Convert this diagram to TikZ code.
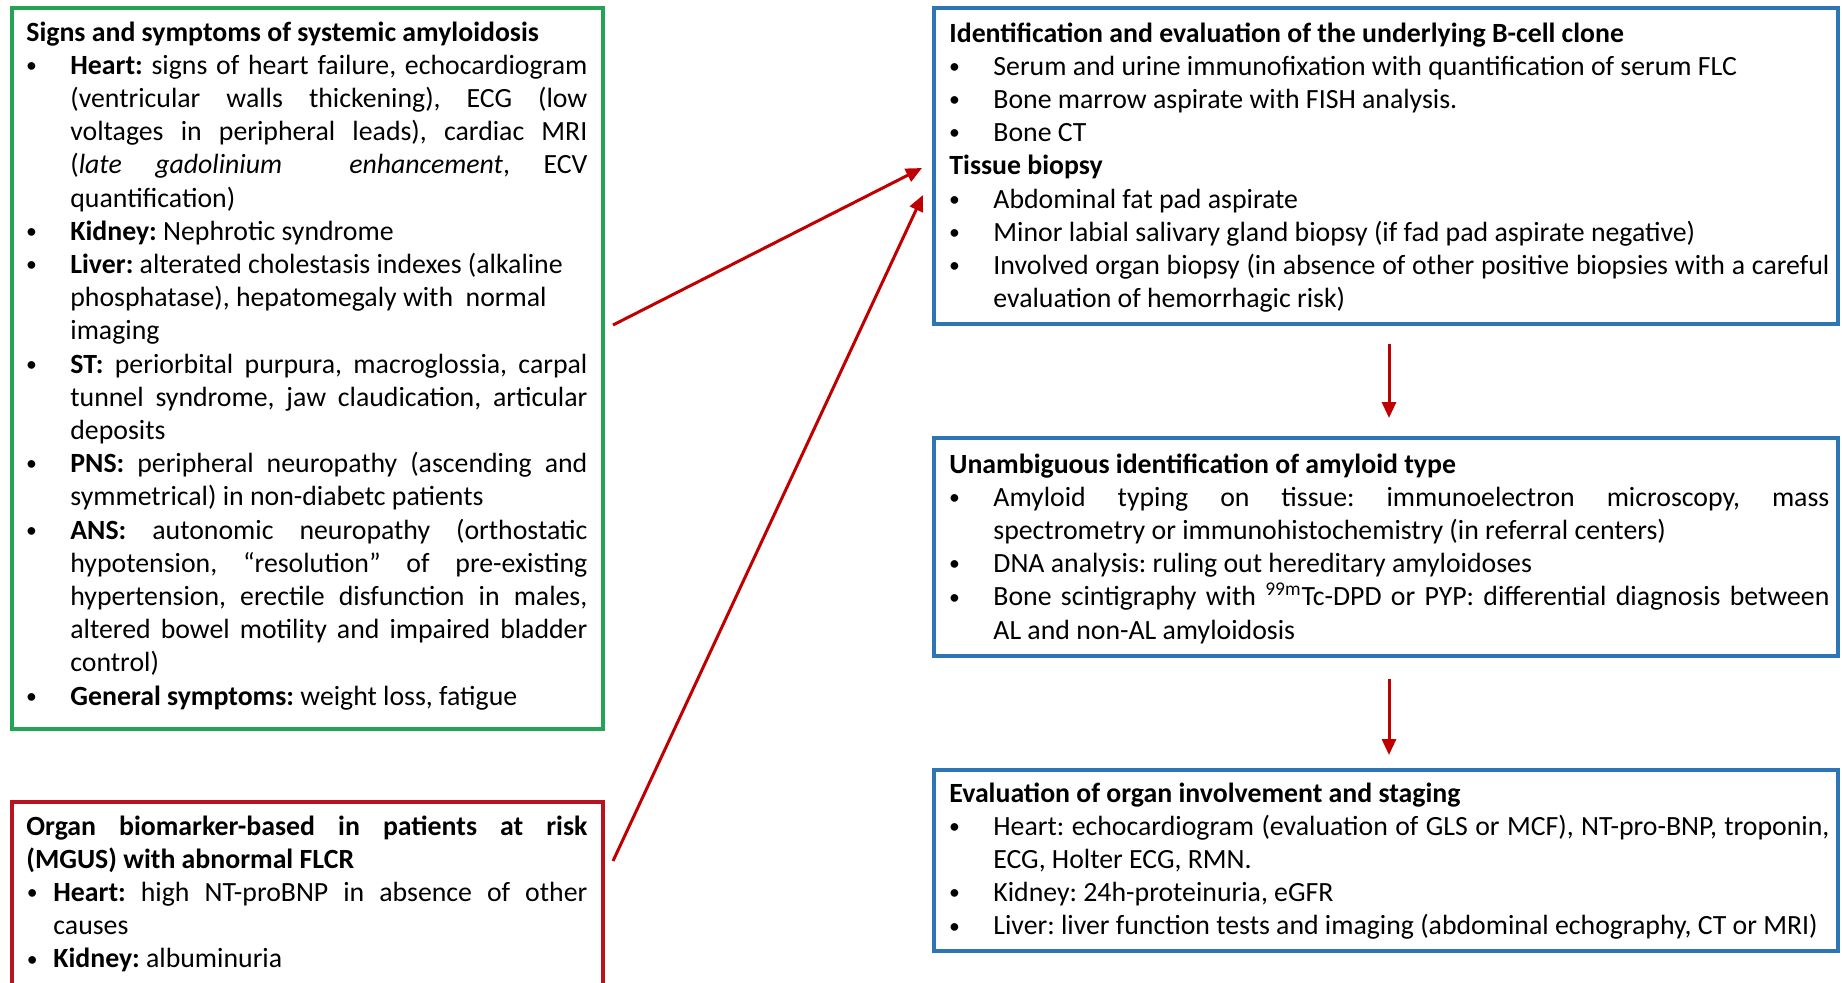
\documentclass[tikz,border=0pt]{standalone}
\usepackage{fontspec}
\usepackage{graphicx}
\setmainfont{Carlito}
\usetikzlibrary{arrows.meta}
\definecolor{boxgreen}{RGB}{36,163,84}
\definecolor{boxred}{RGB}{185,20,30}
\definecolor{boxblue}{RGB}{46,117,182}
\definecolor{arrred}{RGB}{192,0,0}
\newlength\bulx
\newlength\txtx
\newcommand\smallbul{\raisebox{0.06em}{\scalebox{0.78}{\textbullet}}}
\newcommand\bi{\par\hangindent=\txtx\hangafter=1\noindent\makebox[\txtx][l]{\hspace*{\bulx}\makebox[0pt]{\smallbul}}\ignorespaces}
\newcommand\hd[1]{\par\noindent\textbf{#1}}
\newcommand\hdfirst[1]{\noindent\textbf{#1}}
\hyphenpenalty=10000
\exhyphenpenalty=10000
\frenchspacing
\begin{document}
\begin{tikzpicture}[x=0.5pt,y=-0.5pt,
  frame/.style={draw, line width=2pt, rectangle, inner sep=0pt},
  txt/.style={anchor=base west, inner sep=0pt, align=justify, font=\fontsize{13.9pt}{16.6pt}\selectfont\frenchspacing},
  arr/.style={draw=arrred, line width=1.5pt, -{Triangle[length=8pt,width=7pt]}}]
\useasboundingbox (0,0) rectangle (1842,982);
\clip (0,0) rectangle (1842,982);
\fill[white] (0,0) rectangle (1842,982);
% frames
\node[frame, draw=boxgreen, minimum width=295.5pt, minimum height=360.5pt] (g) at (307.5,368.5) {};
\node[frame, draw=boxred, minimum width=295.5pt, minimum height=99pt] (r) at (307.5,901) {};
\node[frame, draw=boxblue, minimum width=452pt, minimum height=158pt] (b1) at (1386,166) {};
\node[frame, draw=boxblue, minimum width=452pt, minimum height=109pt] (b2) at (1386,547) {};
\node[frame, draw=boxblue, minimum width=452pt, minimum height=90.5pt] (b3) at (1386,860.5) {};
% texts
\node[txt, text width=280.5pt] (gt) at (26,41) {\setlength\bulx{2.6pt}\setlength\txtx{22pt}%
\hdfirst{Signs and symptoms of systemic amyloidosis}
\bi\textbf{Heart:} signs of heart failure, echocardiogram\linebreak (ventricular walls thickening), ECG (low\linebreak voltages in peripheral leads), cardiac MRI\linebreak (\textit{late gadolinium\ \ enhancement}, ECV\linebreak quantification)
\bi\textbf{Kidney:} Nephrotic syndrome
\bi\textbf{Liver:} alterated cholestasis indexes (alkaline\newline phosphatase), hepatomegaly with\ \ normal\newline imaging
\bi\textbf{ST:} periorbital purpura, macroglossia, carpal\linebreak tunnel syndrome, jaw claudication, articular\linebreak deposits
\bi\textbf{PNS:} peripheral neuropathy (ascending and\linebreak symmetrical) in non-diabetc patients
\bi\textbf{ANS:} autonomic neuropathy (orthostatic\linebreak hypotension, “resolution” of pre-existing\linebreak hypertension, erectile disfunction in males,\linebreak altered bowel motility and impaired bladder\linebreak control)
\bi\textbf{General symptoms:} weight loss, fatigue\par};
\node[txt, text width=280.5pt] (rt) at (26,835) {\setlength\bulx{2.9pt}\setlength\txtx{13.5pt}%
\hdfirst{Organ biomarker-based in patients at risk\linebreak (MGUS) with abnormal FLCR}
\bi\textbf{Heart:} high NT-proBNP in absence of other\linebreak causes
\bi\textbf{Kidney:} albuminuria\par};
\node[txt, text width=440pt] (b1t) at (949,42) {\setlength\bulx{2.5pt}\setlength\txtx{22pt}%
\hdfirst{Identification and evaluation of the underlying B-cell clone}
\bi Serum and urine immunofixation with quantification of serum FLC
\bi Bone marrow aspirate with FISH analysis.
\bi Bone CT
\hd{Tissue biopsy}
\bi Abdominal fat pad aspirate
\bi Minor labial salivary gland biopsy (if fad pad aspirate negative)
\bi Involved organ biopsy (in absence of other positive biopsies with a careful\linebreak evaluation of hemorrhagic risk)\par};
\node[txt, text width=440pt] (b2t) at (949,473) {\setlength\bulx{2.5pt}\setlength\txtx{22pt}%
\hdfirst{Unambiguous identification of amyloid type}
\bi Amyloid typing on tissue: immunoelectron microscopy, mass\linebreak spectrometry or immunohistochemistry (in referral centers)
\bi DNA analysis: ruling out hereditary amyloidoses
\bi Bone scintigraphy with \textsuperscript{99m}Tc-DPD or PYP: differential diagnosis between\linebreak AL and non-AL amyloidosis\par};
\node[txt, text width=440pt] (b3t) at (949,802) {\setlength\bulx{2.5pt}\setlength\txtx{22pt}%
\hdfirst{Evaluation of organ involvement and staging}
\bi Heart: echocardiogram (evaluation of GLS or MCF), NT-pro-BNP, troponin,\linebreak ECG, Holter ECG, RMN.
\bi Kidney: 24h-proteinuria, eGFR
\bi Liver: liver function tests and imaging (abdominal echography, CT or MRI)\par};
% connectors
\coordinate (gA) at (613,325);
\coordinate (bA) at (922,168);
\coordinate (rB) at (613,861);
\coordinate (bB) at (923,195);
\draw[arr] (gA) -- (bA);
\draw[arr] (rB) -- (bB);
\draw[arr, shorten <=9pt, shorten >=9pt] ([xshift=1.5pt]b1.south) -- ([xshift=1.5pt]b2.north);
\draw[arr, shorten <=10.5pt, shorten >=6.5pt] ([xshift=1.5pt]b2.south) -- ([xshift=1.5pt]b3.north);
\end{tikzpicture}
\end{document}
